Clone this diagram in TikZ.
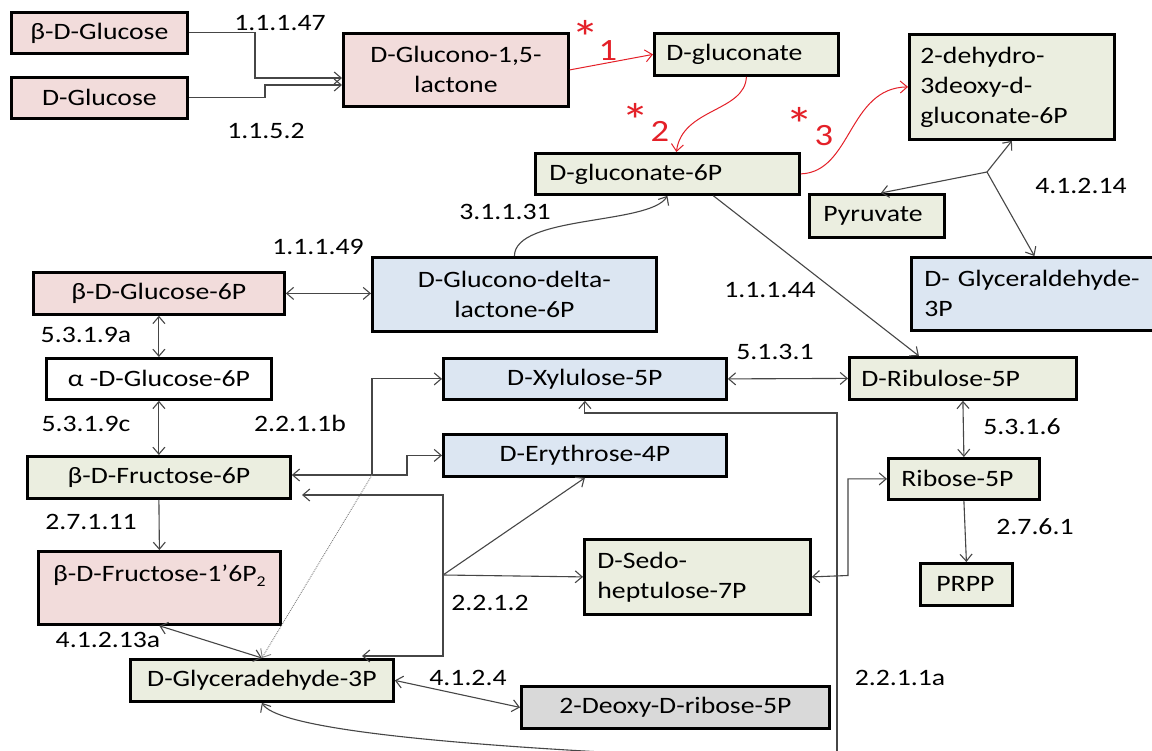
\documentclass[tikz,border=0pt]{standalone}
\usepackage{fontspec}
\setmainfont{Carlito}[FakeStretch=1.18]
\usetikzlibrary{arrows.meta,calc}

\definecolor{pinkfill}{RGB}{242,220,219}
\definecolor{greenfill}{RGB}{235,238,224}
\definecolor{bluefill}{RGB}{220,230,242}
\definecolor{grayfill}{RGB}{217,217,217}
\definecolor{linegray}{RGB}{70,70,70}
\definecolor{redink}{RGB}{228,32,40}

\newcommand\diagfont{\fontsize{23.5}{30}\selectfont}
\newcommand\starfont{\fontsize{48}{48}\selectfont}
\newcommand\digitfont{\fontsize{31}{31}\selectfont}
\newcommand\lowtwo{\raisebox{-0.22em}{\fontsize{15}{15}\selectfont 2}}

\tikzset{
  box/.style={draw=black, line width=2.8pt, inner sep=0pt, anchor=north west, font=\diagfont},
  cbox/.style={box, align=center},
  lbox/.style={box, align=left},
  tip/.tip={Straight Barb[length=7pt,width=12pt]},
  conn/.style={draw=linegray, line width=1.1pt, -tip},
  both/.style={draw=linegray, line width=1.1pt, tip-tip},
  redconn/.style={draw=redink, line width=1pt, -tip},
  ec/.style={font=\diagfont, text=black, inner sep=0pt},
  redstar/.style={text=redink, inner sep=0pt, font=\starfont},
  reddigit/.style={text=redink, inner sep=0pt, font=\digitfont},
}

\begin{document}
\begin{tikzpicture}[x=1pt,y=-1pt]
\useasboundingbox (0,0) rectangle (1152,751);
\clip (0,0) rectangle (1152,751);
\fill[white] (0,0) rectangle (1152,751);

% metabolites
\node[cbox, fill=pinkfill, minimum width=176pt, minimum height=41pt] (bglc) at (10,11) {β-D-Glucose};
\node[cbox, fill=pinkfill, minimum width=176pt, minimum height=41pt] (dglc) at (10,76) {D-Glucose};
\node[cbox, fill=pinkfill, minimum width=225pt, minimum height=73pt] (glac) at (342,32) {D-Glucono-1,5-\\lactone};
\node[lbox, fill=greenfill, minimum height=42pt, text width=160pt, inner xsep=12pt] (gnt) at (653,32) {D-gluconate};
\node[lbox, fill=greenfill, minimum height=41pt, text width=236pt, inner xsep=14pt] (g6p) at (534,152) {D-gluconate-6P};
\node[lbox, fill=greenfill, minimum height=105pt, text width=183pt, inner xsep=11pt] (dh) at (908,33) {2-dehydro-\\3deoxy-d-\\gluconate-6P};
\node[lbox, fill=greenfill, minimum height=43pt, text width=107pt, inner xsep=14pt] (pyr) at (808,193) {Pyruvate};
\node[lbox, fill=bluefill, minimum height=73pt, text width=240pt, inner xsep=13pt] (gla3) at (910,256) {D- Glyceraldehyde-\\3P};
\node[cbox, fill=bluefill, minimum width=284pt, minimum height=74pt] (gdl) at (371,256) {D-Glucono-delta-\\lactone-6P};
\node[cbox, fill=pinkfill, minimum width=251pt, minimum height=42pt] (bg6p) at (32,271) {β-D-Glucose-6P};
\node[cbox, fill=white, minimum width=225pt, minimum height=41pt] (ag6p) at (45,357) {α -D-Glucose-6P};
\node[cbox, fill=greenfill, minimum width=263pt, minimum height=42pt] (bf6p) at (26,455) {β-D-Fructose-6P};
\node[box, fill=pinkfill, minimum width=242pt, minimum height=73pt, text height=30pt, text depth=43pt] (bf16) at (37,550) {β-D-Fructose-1’6P\lowtwo};
\node[cbox, fill=greenfill, minimum width=263pt, minimum height=42pt] (gad) at (129,658) {D-Glyceradehyde-3P};
\node[cbox, fill=bluefill, minimum width=283pt, minimum height=41pt] (xyl) at (442,357) {D-Xylulose-5P};
\node[cbox, fill=bluefill, minimum width=283pt, minimum height=42pt] (ery) at (442,433) {D-Erythrose-4P};
\node[lbox, fill=greenfill, minimum height=75pt, text width=200pt, inner xsep=13pt] (sed) at (583,538) {D-Sedo-\\heptulose-7P};
\node[lbox, fill=greenfill, minimum height=42pt, text width=203pt, inner xsep=12pt] (rib5) at (848,356) {D-Ribulose-5P};
\node[lbox, fill=greenfill, minimum height=41pt, text width=125pt, inner xsep=13pt] (r5p) at (887,457) {Ribose-5P};
\node[lbox, fill=greenfill, minimum height=42pt, text width=60pt, inner xsep=16pt] (prpp) at (919,562) {PRPP};
\node[cbox, fill=grayfill, minimum width=308pt, minimum height=42pt] (deox) at (520,685) {2-Deoxy-D-ribose-5P};

% bend points and junctions
\coordinate (k1) at (255,78);
\coordinate (k2) at (265,85);
\coordinate (pb) at (987,172);
\coordinate (j1) at (372,475);
\coordinate (k3) at (407,475);
\coordinate (j2) at (443,575);
\coordinate (k4) at (302,495);
\coordinate (k5) at (362,656);
\coordinate (k6) at (848,575.5);
\coordinate (k7) at (837,760);
\coordinate (k8) at (837,413);
\coordinate (k9) at (640,754);

% glucose oxidation
\draw[conn] (bglc.east) -| (k1) -- (k1 -| glac.west);
\draw[conn] (dglc.east) -| (k2) -- (k2 -| glac.west);
\draw[redconn] (glac.east) -- (gnt.west);
\draw[redconn] (gnt.south) .. controls (745,112) and (682,108) .. ($(g6p.north)+(9,0)$);
\draw[redconn] (g6p.east) .. controls (852,172) and (848,88) .. (dh.west);

% Entner-Doudoroff split
\draw[conn] (pb) -- (dh.south);
\draw[conn] (pb) -- ($(pyr.north)+(4,0)$);
\draw[conn] (pb) -- ($(gla3.north)+(-10,0)$);

% oxidative branch
\draw[conn] (gdl.north) .. controls (515,215) and (650,225) .. (g6p.south);
\draw[conn] ($(g6p.south)+(46,0)$) -- ($(rib5.north)+(-44,0)$);
\draw[both] (bg6p.east) -- (bg6p.east -| gdl.west);

% glycolysis side
\draw[both] (bg6p.south) -- (ag6p.north);
\draw[both] (ag6p.south) -- (bf6p.north);
\draw[conn] (bf6p.south) -- (bf16.north);
\draw[both] (bf16.south) -- (gad.north);

% transketolase 2.2.1.1b
\draw[conn] (j1) -- (j1 -| bf6p.east);
\draw[conn] (j1) |- (xyl.west);
\draw[conn] (j1) -- (k3) |- (ery.west);
\draw[draw=gray, line width=0.9pt, densely dotted, -tip] (j1) -- (gad.north);

% transaldolase 2.2.1.2
\draw[conn] (j2) -- (ery.south);
\draw[conn] (j2) -- (sed.west);
\draw[conn] (j2) |- (k4);
\draw[conn] (j2) |- (k5);

% non-oxidative branch
\draw[both] (xyl.east) -- (rib5.west);
\draw[both] (rib5.south) -- (r5p.north);
\draw[conn] (r5p.south) -- (prpp.north);
\draw[both] (sed.east) -- (k6) |- (r5p.west);
\draw[conn] (k7) -- (k8) -| (xyl.south);
\draw[both] (gad.east) -- (deox.west);
\draw[conn] (k9) .. controls (400,742) and (275,725) .. (gad.south);

% enzyme numbers
\node[ec] (e1) at (280,23) {1.1.1.47};
\node[ec] (e2) at (266,131) {1.1.5.2};
\node[ec] (e3) at (1081,186) {4.1.2.14};
\node[ec] (e4) at (505,212) {3.1.1.31};
\node[ec] (e5) at (318,247) {1.1.1.49};
\node[ec] (e6) at (770,290) {1.1.1.44};
\node[ec] (e7) at (86,335) {5.3.1.9a};
\node[ec] (e8) at (775,352) {5.1.3.1};
\node[ec] (e9) at (86,424) {5.3.1.9c};
\node[ec] (e10) at (300,423) {2.2.1.1b};
\node[ec] (e11) at (1022,427) {5.3.1.6};
\node[ec] (e12) at (91,522) {2.7.1.11};
\node[ec] (e13) at (1035,527) {2.7.6.1};
\node[ec] (e14) at (490,603) {2.2.1.2};
\node[ec] (e15) at (108,640) {4.1.2.13a};
\node[ec] (e16) at (468,678) {4.1.2.4};
\node[ec] (e17) at (900,678) {2.2.1.1a};

% highlighted steps
\node[redstar] (s1) at (586,37) {*};
\node[reddigit] (n1) at (608,51) {1};
\node[redstar] (s2) at (636,120) {*};
\node[reddigit] (n2) at (660,131) {2};
\node[redstar] (s3) at (800,124) {*};
\node[reddigit] (n3) at (824,136) {3};
\end{tikzpicture}
\end{document}
